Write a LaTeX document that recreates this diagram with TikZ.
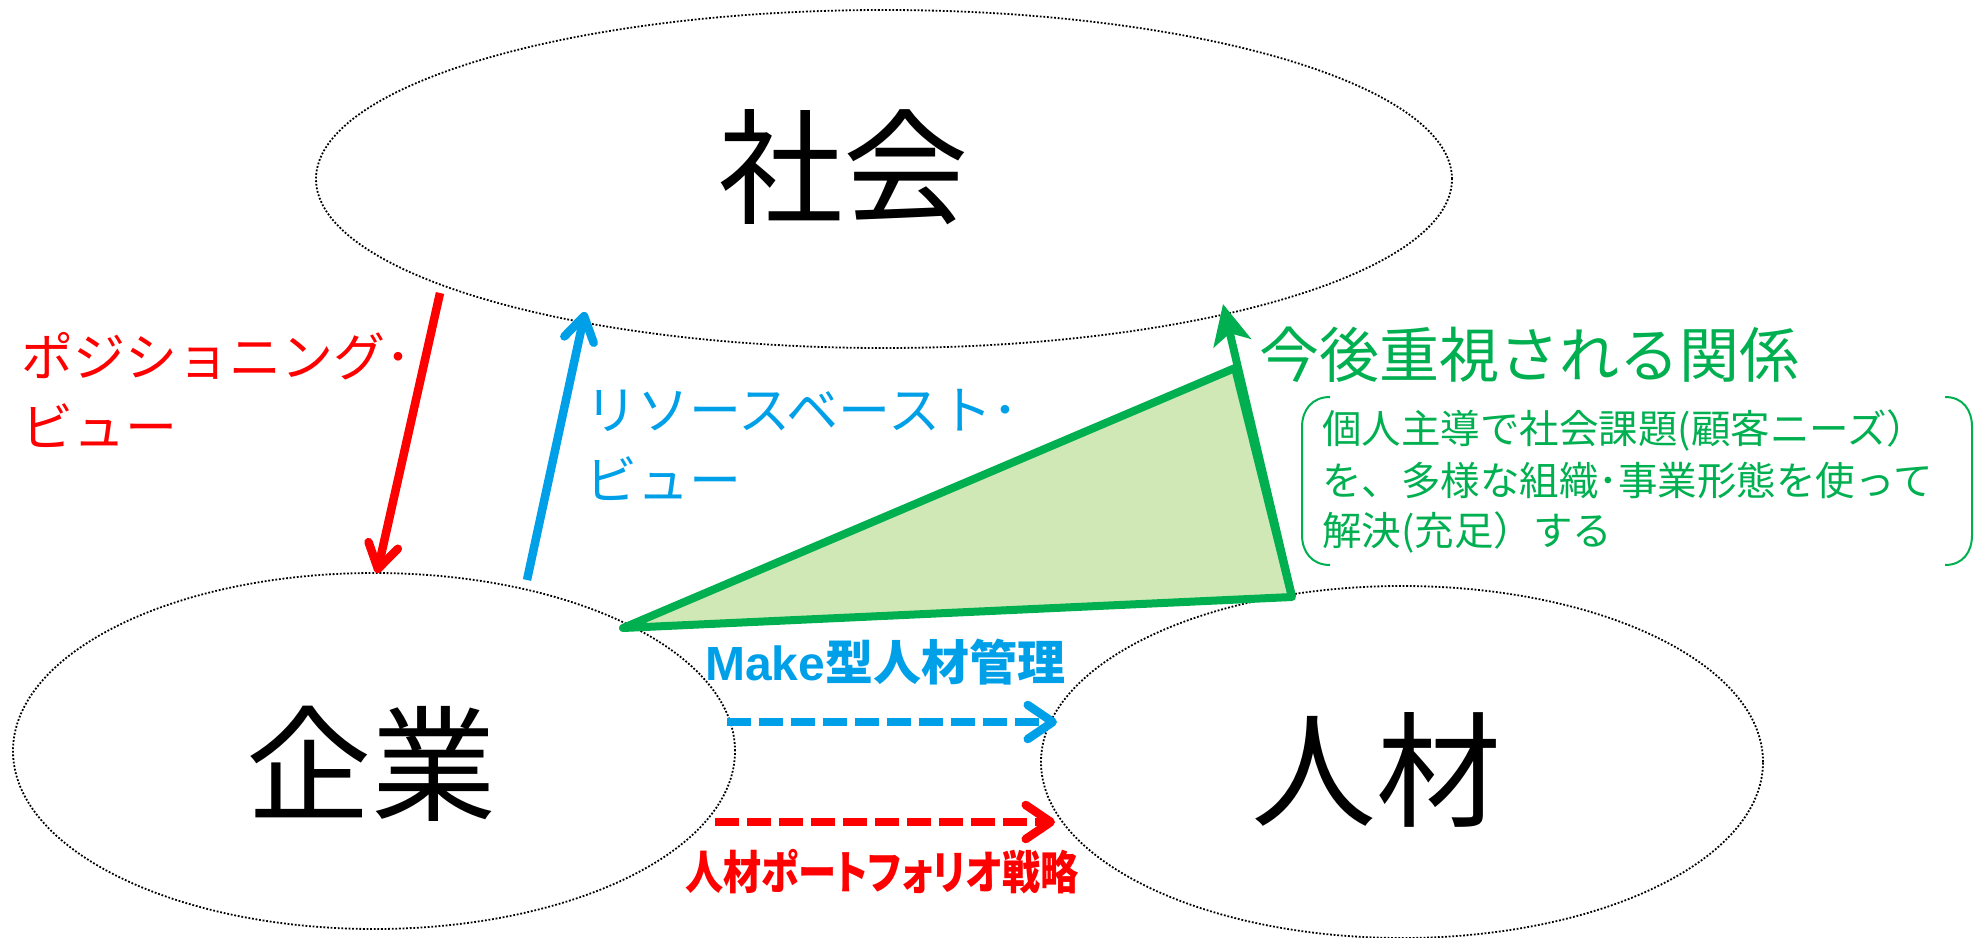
\documentclass[tikz,border=0pt]{standalone}
\usepackage{fontspec}
\setmainfont{Liberation Sans}
\newfontfamily\jp{Noto Sans CJK JP}
\newfontfamily\jpp{Noto Sans CJK JP}[RawFeature=+palt]
\usetikzlibrary{arrows.meta,shapes.geometric}
\definecolor{cred}{HTML}{FF0000}
\definecolor{cblue}{HTML}{00A0E9}
\definecolor{cgreen}{HTML}{00B050}
\definecolor{cfill}{HTML}{D0E8B6}
\begin{document}
\begin{tikzpicture}[x=1pt,y=-1pt,
  ell/.style={draw=black, line width=1.8pt, dash pattern=on 1.8pt off 1.8pt, ellipse, inner sep=0pt},
  big/.style={font=\jp\fontsize{125}{150}\selectfont, inner sep=0pt},
  lbl/.style={font=\jp\fontsize{52}{60}\selectfont, inner sep=0pt, anchor=base west},
  gtitle/.style={font=\jp\fontsize{60}{70}\selectfont, inner sep=0pt, anchor=base west, text=cgreen},
  gbody/.style={font=\jp\fontsize{39.5}{45}\selectfont, inner sep=0pt, anchor=base west, text=cgreen},
  openhead/.style={-{Straight Barb[length=24pt,width=30pt,round]}},
  dashline/.style={line width=8.5pt, dash pattern=on 24pt off 8pt, -{Straight Barb[length=25pt,width=34pt,round]}}
]
\useasboundingbox (0,0) rectangle (1983,937);
% ellipses
\node[ell, minimum width=1136pt, minimum height=338pt] (shakai) at (884,179) {};
\node[ell, minimum width=722pt, minimum height=356pt] (kigyo) at (374,751) {};
\node[ell, minimum width=722pt, minimum height=352pt] (jinzai) at (1402,762) {};
\node[big] (tshakai) at (843,167) {社会};
\node[big] (tkigyo) at (371,764) {企業};
\node[big] (tjinzai) at (1376,770) {人材};
% red positioning arrow
\coordinate (r1) at (440,293);
\coordinate (r2) at (377,573);
\draw[cred, line width=8.5pt, openhead] (r1) -- (r2);
\node[lbl, text=cred] (rl1) at (21,376) {ポジショニング･};
\node[lbl, text=cred] (rl2) at (21,446) {ビュー};
% blue resource arrow
\coordinate (b1) at (527,580);
\coordinate (b2) at (585,312);
\draw[cblue, line width=8.5pt, openhead] (b1) -- (b2);
\node[lbl, text=cblue] (bl1) at (585,429) {リソースベースト･};
\node[lbl, text=cblue] (bl2) at (585,499) {ビュー};
% green triangle
\coordinate (g1) at (623,628);
\coordinate (g2) at (1235,368);
\coordinate (g3) at (1292,597);
\coordinate (g4) at (1223,304);
\draw[cgreen, fill=cfill, line width=8pt, line join=round] (g1) -- (g2) -- (g3) -- cycle;
\draw[cgreen, line width=8pt, -{Stealth[length=40pt,width=38pt,inset=10pt]}] (g3) -- (g4);
\node[gtitle] (gt) at (1259,377) {今後重視される関係};
% bracket
\draw[cgreen, line width=2pt] (1330,397) .. controls (1312,397) and (1302,410) .. (1302,427) -- (1302,535) .. controls (1302,552) and (1312,565) .. (1330,565);
\draw[cgreen, line width=2pt] (1945,397) .. controls (1963,397) and (1972,410) .. (1972,427) -- (1972,535) .. controls (1972,552) and (1963,565) .. (1945,565);
\node[gbody] (gb1) at (1322,443) {個人主導で社会課題(顧客ニーズ）};
\node[gbody] (gb2) at (1322,495) {を、多様な組織･事業形態を使って};
\node[gbody] (gb3) at (1322,545) {解決(充足）する};
% dashed arrows
\coordinate (d1) at (727,722);
\coordinate (d2) at (1057,722);
\coordinate (e1) at (715,822);
\coordinate (e2) at (1055,822);
\draw[cblue, dashline] (d1) -- (d2);
\draw[cred, dashline] (e1) -- (e2);
\node[inner sep=0pt, anchor=base west, text=cblue, font=\fontsize{48}{56}\selectfont\bfseries] (make) at (705,680) {Make{\jp\bfseries 型人材管理}};
\node[inner sep=0pt, anchor=base west, text=cred, font=\jpp\fontsize{46}{56}\selectfont\bfseries] (port) at (685,889) {\scalebox{0.83}[1]{人材ポートフォリオ戦略}};
\end{tikzpicture}
\end{document}
